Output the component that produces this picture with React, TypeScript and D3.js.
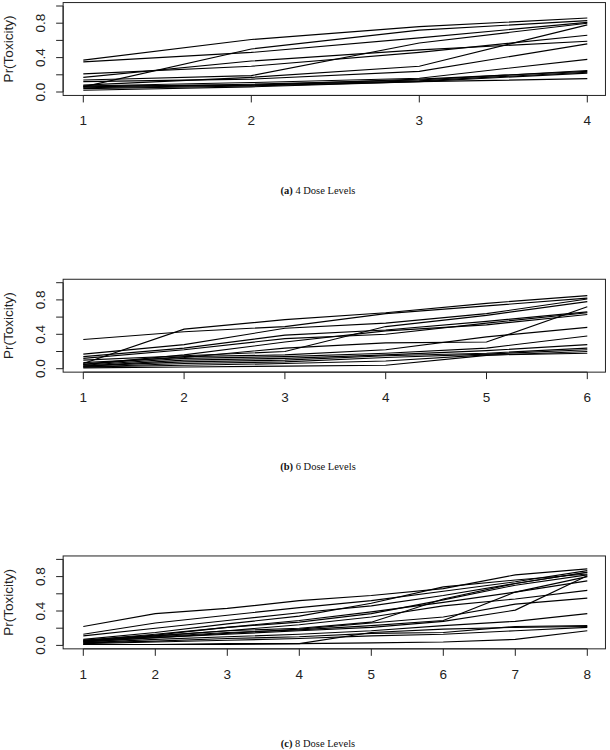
import React from "react";
import * as d3 from "d3";

// ---- data ----
const dosesA = [1, 2, 3, 4];
const seriesA: number[][] = [
  [0.37, 0.61, 0.76, 0.86],
  [0.35, 0.46, 0.63, 0.81],
  [0.06, 0.50, 0.72, 0.83],
  [0.21, 0.30, 0.46, 0.66],
  [0.17, 0.36, 0.49, 0.59],
  [0.14, 0.19, 0.57, 0.80],
  [0.08, 0.17, 0.30, 0.78],
  [0.12, 0.15, 0.24, 0.56],
  [0.07, 0.11, 0.16, 0.38],
  [0.06, 0.09, 0.14, 0.25],
  [0.05, 0.08, 0.13, 0.23],
  [0.04, 0.07, 0.12, 0.22],
  [0.07, 0.08, 0.15, 0.24],
  [0.02, 0.06, 0.12, 0.155],
];

const dosesB = [1, 2, 3, 4, 5, 6];
const seriesB: number[][] = [
  [0.06, 0.46, 0.57, 0.65, 0.76, 0.85],
  [0.34, 0.43, 0.49, 0.64, 0.73, 0.82],
  [0.17, 0.28, 0.47, 0.53, 0.64, 0.81],
  [0.10, 0.15, 0.20, 0.49, 0.62, 0.78],
  [0.07, 0.13, 0.24, 0.30, 0.31, 0.72],
  [0.14, 0.24, 0.39, 0.45, 0.55, 0.66],
  [0.12, 0.22, 0.35, 0.40, 0.53, 0.65],
  [0.05, 0.16, 0.31, 0.44, 0.51, 0.63],
  [0.05, 0.14, 0.16, 0.22, 0.37, 0.48],
  [0.04, 0.12, 0.14, 0.18, 0.24, 0.38],
  [0.03, 0.10, 0.12, 0.16, 0.21, 0.28],
  [0.03, 0.08, 0.10, 0.15, 0.18, 0.24],
  [0.02, 0.06, 0.08, 0.13, 0.17, 0.22],
  [0.01, 0.02, 0.03, 0.04, 0.155, 0.20],
  [0.02, 0.04, 0.06, 0.09, 0.16, 0.18],
];

const dosesC = [1, 2, 3, 4, 5, 6, 7, 8];
const seriesC: number[][] = [
  [0.22, 0.37, 0.43, 0.52, 0.58, 0.66, 0.82, 0.89],
  [0.13, 0.26, 0.35, 0.44, 0.52, 0.63, 0.74, 0.87],
  [0.11, 0.20, 0.29, 0.38, 0.46, 0.58, 0.72, 0.85],
  [0.07, 0.15, 0.25, 0.34, 0.49, 0.68, 0.76, 0.83],
  [0.06, 0.12, 0.21, 0.27, 0.37, 0.53, 0.70, 0.82],
  [0.05, 0.11, 0.17, 0.20, 0.27, 0.54, 0.72, 0.85],
  [0.05, 0.10, 0.15, 0.18, 0.23, 0.29, 0.62, 0.80],
  [0.04, 0.09, 0.13, 0.17, 0.21, 0.28, 0.41, 0.81],
  [0.06, 0.13, 0.21, 0.29, 0.39, 0.50, 0.62, 0.75],
  [0.05, 0.11, 0.17, 0.24, 0.33, 0.46, 0.54, 0.64],
  [0.04, 0.09, 0.14, 0.19, 0.26, 0.33, 0.48, 0.55],
  [0.03, 0.07, 0.10, 0.13, 0.17, 0.23, 0.28, 0.37],
  [0.03, 0.05, 0.08, 0.10, 0.14, 0.15, 0.22, 0.23],
  [0.02, 0.04, 0.06, 0.08, 0.11, 0.13, 0.17, 0.21],
  [0.01, 0.01, 0.01, 0.02, 0.15, 0.19, 0.21, 0.22],
  [0.01, 0.01, 0.02, 0.02, 0.03, 0.04, 0.07, 0.17],
];

const yTicks = [0, 0.2, 0.4, 0.6, 0.8, 1.0];
const yTickLabels = ["0.0", "", "0.4", "", "0.8", ""];
const yLabel = "Pr(Toxicity)";
const captionTags = ["(a)", "(b)", "(c)"];
const captionTexts = ["4 Dose Levels", "6 Dose Levels", "8 Dose Levels"];

const panels = [
  { doses: dosesA, series: seriesA },
  { doses: dosesB, series: seriesB },
  { doses: dosesC, series: seriesC },
];

const W = 610;
const H = 750;
const PANEL_STEP = 276.7;
const SANS = "'Liberation Sans', Arial, Helvetica, sans-serif";
const SERIF = "'Liberation Serif', 'Times New Roman', serif";

function Panel({ idx, doses, series }: { idx: number; doses: number[]; series: number[][] }) {
  const off = idx * PANEL_STEP;
  const xFirst = 83.3;
  const xLast = 587.3;
  const x = d3.scaleLinear().domain([doses[0], doses[doses.length - 1]]).range([xFirst, xLast]);
  const y = d3.scaleLinear().domain([0, 1]).range([92 + off, 6 + off]);
  const xPad = (xLast - xFirst) * 0.04;
  const boxL = xFirst - xPad;
  const boxR = xLast + xPad - 2;
  const boxT = y(1.04);
  const boxB = y(-0.04);
  const line = d3
    .line<number>()
    .x((_, i) => x(doses[i]))
    .y((v) => y(v));
  return (
    <g>
      {series.map((s, i) => (
        <path key={i} d={line(s) || ""} fill="none" stroke="#000" strokeWidth={1.15} />
      ))}
      <rect x={boxL} y={boxT} width={boxR - boxL} height={boxB - boxT} fill="none" stroke="#222" strokeWidth={1} />
      <line x1={boxL} x2={boxL} y1={y(0)} y2={y(1)} stroke="#222" />
      {yTicks.map((t, i) => (
        <g key={i}>
          <line x1={boxL - 7} x2={boxL} y1={y(t)} y2={y(t)} stroke="#222" />
          {yTickLabels[i] && (
            <text
              transform={`translate(${boxL - 18},${y(t)}) rotate(-90)`}
              textAnchor="middle"
              fontFamily={SANS}
              fontSize={13.5}
              fill="#222"
            >
              {yTickLabels[i]}
            </text>
          )}
        </g>
      ))}
      <text
        transform={`translate(${13},${y(0.5)}) rotate(-90)`}
        textAnchor="middle"
        fontFamily={SANS}
        fontSize={13.5}
        fill="#222"
      >
        {yLabel}
      </text>
      <line x1={x(doses[0])} x2={x(doses[doses.length - 1])} y1={boxB} y2={boxB} stroke="#222" />
      {doses.map((d) => (
        <g key={d}>
          <line x1={x(d)} x2={x(d)} y1={boxB} y2={boxB + 7} stroke="#222" />
          <text x={x(d)} y={boxB + 30} textAnchor="middle" fontFamily={SANS} fontSize={13.5} fill="#222">
            {d}
          </text>
        </g>
      ))}
      <text x={318} y={193.5 + off} textAnchor="middle" fontFamily={SERIF} fontSize={10.5} fill="#111">
        <tspan fontWeight="bold">{captionTags[idx]}</tspan>
        <tspan>{" " + captionTexts[idx]}</tspan>
      </text>
    </g>
  );
}

export default function App() {
  return (
    <svg
      width={W}
      height={H}
      viewBox={`0 0 ${W} ${H}`}
      style={{ position: "absolute", left: 0, top: 0, background: "#fff" }}
    >
      <rect x={0} y={0} width={W} height={H} fill="#fff" />
      {panels.map((p, i) => (
        <Panel key={i} idx={i} doses={p.doses} series={p.series} />
      ))}
    </svg>
  );
}
